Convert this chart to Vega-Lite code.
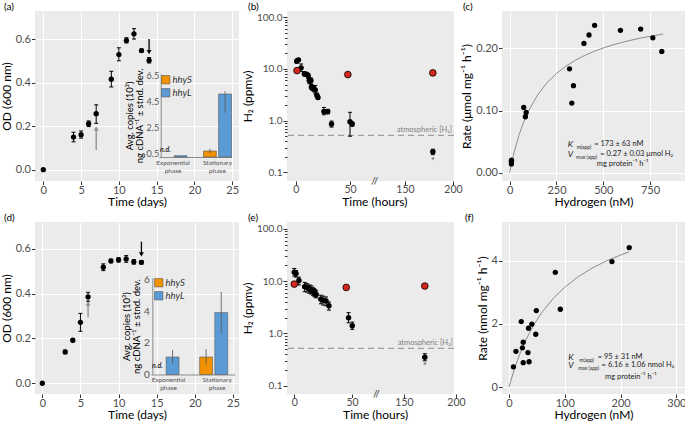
{
"$schema": "https://vega.github.io/schema/vega-lite/v6.json",
"background": "white",
"padding": {"left": 0, "top": 2, "right": 0, "bottom": 0},
"config": {
  "font": "Lato",
  "view": {"fill": "#EBEBEB", "stroke": null},
  "axis": {"domain": false, "labelFontSize": 11, "labelColor": "#4D4D4D", "titleFontSize": 12, "titleFontWeight": "normal", "titleColor": "#000000", "tickColor": "#333333", "tickSize": 3.5, "gridColor": "#FFFFFF", "gridWidth": 1, "labelPadding": 1, "titlePadding": 2, "labelFlush": false, "labelOverlap": false},
  "axisX": {"labelPadding": 0, "titlePadding": 1},
  "title": {"fontSize": 10, "fontWeight": "normal", "anchor": "start", "frame": "group", "offset": -1, "color": "#000000"},
  "legend": {"labelFontSize": 9.5, "labelFontStyle": "italic", "labelColor": "#333333"}
},
"datasets": {
  "growthA": [
    {"day": 0, "od": 0.0},
    {"day": 4, "od": 0.150, "lo": 0.128, "hi": 0.172},
    {"day": 5, "od": 0.161, "lo": 0.145, "hi": 0.178},
    {"day": 6, "od": 0.211, "lo": 0.198, "hi": 0.224},
    {"day": 7, "od": 0.257, "lo": 0.213, "hi": 0.298},
    {"day": 9, "od": 0.416, "lo": 0.380, "hi": 0.452},
    {"day": 10, "od": 0.529, "lo": 0.500, "hi": 0.560},
    {"day": 11, "od": 0.594, "lo": 0.582, "hi": 0.606},
    {"day": 12, "od": 0.624, "lo": 0.600, "hi": 0.648},
    {"day": 13, "od": 0.547, "lo": 0.540, "hi": 0.554},
    {"day": 14, "od": 0.502, "lo": 0.490, "hi": 0.515}
  ],
  "arrowsA": [
    {"day": 7, "from": 0.09, "to": 0.19, "kind": "exp"},
    {"day": 14, "from": 0.60, "to": 0.54, "kind": "stat"}
  ],
  "insetA": [
    {"phase": "Exponential phase", "gene": "hhyS", "note": "n.d."},
    {"phase": "Exponential phase", "gene": "hhyL", "copies": 0.3},
    {"phase": "Stationary phase", "gene": "hhyS", "copies": 0.66, "lo": 0.48, "hi": 0.84},
    {"phase": "Stationary phase", "gene": "hhyL", "copies": 5.04, "lo": 3.6, "hi": 5.25}
  ],
  "growthD": [
    {"day": 0, "od": 0.0},
    {"day": 3, "od": 0.140, "lo": 0.132, "hi": 0.148},
    {"day": 4, "od": 0.192, "lo": 0.185, "hi": 0.199},
    {"day": 5, "od": 0.272, "lo": 0.232, "hi": 0.312},
    {"day": 6, "od": 0.386, "lo": 0.366, "hi": 0.406},
    {"day": 8, "od": 0.518, "lo": 0.503, "hi": 0.533},
    {"day": 9, "od": 0.546, "lo": 0.538, "hi": 0.554},
    {"day": 10, "od": 0.551, "lo": 0.541, "hi": 0.561},
    {"day": 11, "od": 0.555, "lo": 0.540, "hi": 0.570},
    {"day": 12, "od": 0.542, "lo": 0.532, "hi": 0.552},
    {"day": 13, "od": 0.540, "lo": 0.532, "hi": 0.548}
  ],
  "arrowsD": [
    {"day": 6, "from": 0.295, "to": 0.355, "kind": "exp"},
    {"day": 13, "from": 0.632, "to": 0.575, "kind": "stat"}
  ],
  "insetD": [
    {"phase": "Exponential phase", "gene": "hhyS", "note": "n.d."},
    {"phase": "Exponential phase", "gene": "hhyL", "copies": 1.1, "lo": 0.7, "hi": 1.55},
    {"phase": "Stationary phase", "gene": "hhyS", "copies": 1.1, "lo": 0.62, "hi": 1.6},
    {"phase": "Stationary phase", "gene": "hhyL", "copies": 3.9, "lo": 2.6, "hi": 5.2}
  ],
  "h2B": [
    {"h": 1, "v": 14.1, "lo": 13, "hi": 15.5},
    {"h": 2.5, "v": 15, "lo": 14, "hi": 16},
    {"h": 5, "v": 10.5, "lo": 9, "hi": 12.5},
    {"h": 8, "v": 8.1, "lo": 7.3, "hi": 8.8},
    {"h": 10, "v": 7.9, "lo": 7.2, "hi": 8.5},
    {"h": 11.5, "v": 7.4, "lo": 6.6, "hi": 8.2},
    {"h": 12.5, "v": 6.0, "lo": 5.2, "hi": 6.8},
    {"h": 14, "v": 6.0, "lo": 5.3, "hi": 6.7},
    {"h": 14.5, "v": 4.5, "lo": 4.0, "hi": 5.0},
    {"h": 15.5, "v": 4.3, "lo": 3.8, "hi": 4.8},
    {"h": 17, "v": 4.1, "lo": 3.6, "hi": 4.6},
    {"h": 18, "v": 3.9, "lo": 3.3, "hi": 4.8},
    {"h": 19.5, "v": 3.1, "lo": 2.8, "hi": 3.4},
    {"h": 20.5, "v": 2.8, "lo": 2.6, "hi": 3.0},
    {"h": 26, "v": 1.5, "lo": 1.3, "hi": 1.8},
    {"h": 29.5, "v": 1.5, "lo": 1.35, "hi": 1.65},
    {"h": 33, "v": 0.86, "lo": 0.75, "hi": 0.98},
    {"h": 50, "v": 0.95, "lo": 0.5, "hi": 1.45},
    {"h": 54, "v": 0.86, "lo": 0.78, "hi": 0.94},
    {"h": 179, "v": 0.25, "lo": 0.22, "hi": 0.28}
  ],
  "redB": [
    {"h": 1.2, "v": 9.3},
    {"h": 48, "v": 7.8},
    {"h": 179, "v": 8.4}
  ],
  "h2E": [
    {"h": 0, "v": 14.8, "lo": 12.5, "hi": 17.5},
    {"h": 1.5, "v": 14, "lo": 12, "hi": 16},
    {"h": 4, "v": 10.3, "lo": 8.5, "hi": 12},
    {"h": 9, "v": 7.8, "lo": 6.3, "hi": 9.5},
    {"h": 11, "v": 7.6, "lo": 6.2, "hi": 9},
    {"h": 13, "v": 7.1, "lo": 5.9, "hi": 8.5},
    {"h": 14.5, "v": 6.9, "lo": 5.7, "hi": 8.2},
    {"h": 16, "v": 6.5, "lo": 5.4, "hi": 7.7},
    {"h": 17, "v": 6.2, "lo": 5.2, "hi": 7.3},
    {"h": 18, "v": 5.9, "lo": 5.0, "hi": 7.0},
    {"h": 19, "v": 5.6, "lo": 4.8, "hi": 6.6},
    {"h": 23, "v": 4.5, "lo": 3.7, "hi": 5.4},
    {"h": 25, "v": 4.3, "lo": 3.5, "hi": 5.2},
    {"h": 27.5, "v": 4.2, "lo": 3.4, "hi": 5.0},
    {"h": 30, "v": 3.4, "lo": 2.8, "hi": 4.0},
    {"h": 47, "v": 2.0, "lo": 1.6, "hi": 2.5},
    {"h": 50.5, "v": 1.4, "lo": 1.2, "hi": 1.65},
    {"h": 170, "v": 0.35, "lo": 0.3, "hi": 0.41}
  ],
  "redE": [
    {"h": 0, "v": 8.8},
    {"h": 45, "v": 7.6},
    {"h": 170, "v": 8.1}
  ],
  "kinC": [
    {"nM": 9, "rate": 0.018}, {"nM": 9, "rate": 0.014}, {"nM": 10, "rate": 0.020},
    {"nM": 75, "rate": 0.105}, {"nM": 88, "rate": 0.097}, {"nM": 84, "rate": 0.090},
    {"nM": 320, "rate": 0.167}, {"nM": 332, "rate": 0.112}, {"nM": 341, "rate": 0.140},
    {"nM": 397, "rate": 0.208}, {"nM": 424, "rate": 0.2215}, {"nM": 454, "rate": 0.237},
    {"nM": 592, "rate": 0.229}, {"nM": 700, "rate": 0.231}, {"nM": 765, "rate": 0.217},
    {"nM": 813, "rate": 0.195}
  ],
  "fitC": [
    {"nM": 0, "rate": 0}, {"nM": 10, "rate": 0.0148}, {"nM": 25, "rate": 0.0341}, {"nM": 50, "rate": 0.0605},
    {"nM": 75, "rate": 0.0817}, {"nM": 100, "rate": 0.0989}, {"nM": 150, "rate": 0.1254}, {"nM": 200, "rate": 0.1448},
    {"nM": 250, "rate": 0.1596}, {"nM": 300, "rate": 0.1712}, {"nM": 350, "rate": 0.1807}, {"nM": 400, "rate": 0.1885},
    {"nM": 450, "rate": 0.1950}, {"nM": 500, "rate": 0.2006}, {"nM": 550, "rate": 0.2054}, {"nM": 600, "rate": 0.2096},
    {"nM": 650, "rate": 0.2132}, {"nM": 700, "rate": 0.2165}, {"nM": 750, "rate": 0.2194}, {"nM": 820, "rate": 0.2230}
  ],
  "kinF": [
    {"nM": 8, "rate": 0.64}, {"nM": 12.5, "rate": 1.13}, {"nM": 22, "rate": 2.07}, {"nM": 24, "rate": 1.24},
    {"nM": 25.5, "rate": 1.42}, {"nM": 25.5, "rate": 0.77}, {"nM": 34, "rate": 1.09}, {"nM": 36, "rate": 0.80},
    {"nM": 35, "rate": 1.86}, {"nM": 41, "rate": 1.99}, {"nM": 48, "rate": 1.67}, {"nM": 49, "rate": 2.42},
    {"nM": 83, "rate": 3.63}, {"nM": 92, "rate": 2.46}, {"nM": 184.5, "rate": 3.97}, {"nM": 215.5, "rate": 4.41}
  ],
  "fitF": [
    {"nM": 0, "rate": 0}, {"nM": 10, "rate": 0.587}, {"nM": 20, "rate": 1.071}, {"nM": 30, "rate": 1.478},
    {"nM": 40, "rate": 1.825}, {"nM": 50, "rate": 2.124}, {"nM": 60, "rate": 2.385}, {"nM": 80, "rate": 2.816},
    {"nM": 100, "rate": 3.159}, {"nM": 125, "rate": 3.5}, {"nM": 150, "rate": 3.771}, {"nM": 175, "rate": 3.993},
    {"nM": 200, "rate": 4.176}, {"nM": 215, "rate": 4.272}
  ]
},
"bounds": "flush",
"align": "each",
"columns": 3,
"spacing": {"row": 41, "column": 48},
"resolve": {"scale": {"color": "independent"}, "legend": {"color": "independent"}},
"concat": [
{
  "width": 204, "height": 170,
  "title": {"text": "(a)", "dx": -31},
  "resolve": {"scale": {"x": "independent", "y": "independent"}, "axis": {"x": "independent", "y": "independent"}},
  "layer": [
    {"layer": [
      {"data": {"name": "growthA"}, "transform": [{"filter": "isValid(datum.lo)"}],
       "mark": {"type": "rule", "color": "#000000", "strokeWidth": 1},
       "encoding": {
         "x": {"field": "day", "type": "quantitative", "title": "Time (days)", "scale": {"domain": [-1.1, 25.9], "nice": false, "zero": false}},
         "y": {"field": "lo", "type": "quantitative", "title": "OD (600 nm)", "scale": {"domain": [-0.052, 0.729], "nice": false, "zero": false}},
         "y2": {"field": "hi"}}},
      {"data": {"name": "growthA"}, "transform": [{"filter": "isValid(datum.lo)"}],
       "mark": {"type": "tick", "orient": "horizontal", "color": "#000000", "size": 4, "thickness": 1, "opacity": 1},
       "encoding": {
         "x": {"field": "day", "type": "quantitative", "title": "Time (days)", "scale": {"domain": [-1.1, 25.9], "nice": false, "zero": false}},
         "y": {"field": "lo", "type": "quantitative", "title": "OD (600 nm)", "scale": {"domain": [-0.052, 0.729], "nice": false, "zero": false}}}},
      {"data": {"name": "growthA"}, "transform": [{"filter": "isValid(datum.hi)"}],
       "mark": {"type": "tick", "orient": "horizontal", "color": "#000000", "size": 4, "thickness": 1, "opacity": 1},
       "encoding": {
         "x": {"field": "day", "type": "quantitative", "title": "Time (days)", "scale": {"domain": [-1.1, 25.9], "nice": false, "zero": false}},
         "y": {"field": "hi", "type": "quantitative", "title": "OD (600 nm)", "scale": {"domain": [-0.052, 0.729], "nice": false, "zero": false}}}},
      {"data": {"name": "growthA"},
       "mark": {"type": "point", "filled": true, "color": "#000000", "size": 28, "opacity": 1},
       "encoding": {
         "x": {"field": "day", "type": "quantitative", "title": "Time (days)", "scale": {"domain": [-1.1, 25.9], "nice": false, "zero": false},
               "axis": {"values": [0, 2.5, 5, 7.5, 10, 12.5, 15, 17.5, 20, 22.5, 25], "labelExpr": "datum.value % 5 !== 0 ? '' : datum.label",
                        "tickOpacity": {"condition": {"test": "datum.value % 5 !== 0", "value": 0}, "value": 1},
                        "gridWidth": {"condition": {"test": "datum.value % 5 !== 0", "value": 0.5}, "value": 1}}},
         "y": {"field": "od", "type": "quantitative", "title": "OD (600 nm)", "scale": {"domain": [-0.052, 0.729], "nice": false, "zero": false},
               "axis": {"values": [0, 0.1, 0.2, 0.3, 0.4, 0.5, 0.6, 0.7], "format": ".1f", "labelExpr": "round(datum.value*10) % 2 === 1 ? '' : datum.label",
                        "tickOpacity": {"condition": {"test": "round(datum.value*10) % 2 === 1", "value": 0}, "value": 1},
                        "gridWidth": {"condition": {"test": "round(datum.value*10) % 2 === 1", "value": 0.5}, "value": 1}}}}},
      {"data": {"name": "arrowsA"},
       "mark": {"type": "rule", "strokeWidth": 1.3},
       "encoding": {
         "x": {"field": "day", "type": "quantitative", "title": "Time (days)", "scale": {"domain": [-1.1, 25.9], "nice": false, "zero": false}},
         "y": {"field": "from", "type": "quantitative", "title": "OD (600 nm)", "scale": {"domain": [-0.052, 0.729], "nice": false, "zero": false}},
         "y2": {"field": "to"},
         "color": {"condition": {"test": "datum.kind === 'exp'", "value": "#8C8C8C"}, "value": "#000000"}}},
      {"data": {"name": "arrowsA"},
       "mark": {"type": "point", "filled": true, "size": 24, "opacity": 1},
       "encoding": {
         "x": {"field": "day", "type": "quantitative", "title": "Time (days)", "scale": {"domain": [-1.1, 25.9], "nice": false, "zero": false}},
         "y": {"field": "to", "type": "quantitative", "title": "OD (600 nm)", "scale": {"domain": [-0.052, 0.729], "nice": false, "zero": false}},
         "color": {"condition": {"test": "datum.kind === 'exp'", "value": "#8C8C8C"}, "value": "#000000"},
         "shape": {"condition": {"test": "datum.kind === 'exp'", "value": "triangle-up"}, "value": "triangle-down"}}}
    ]},
    {"layer": [
      {"data": {"name": "insetA"}, "transform": [{"filter": "isValid(datum.copies)"}],
       "mark": {"type": "bar", "stroke": "#555555", "strokeWidth": 0.6},
       "encoding": {
         "x": {"field": "phase", "type": "nominal", "title": null,
               "scale": {"domain": ["Exponential phase", "Stationary phase"], "range": [124, 196.5], "paddingInner": 0.37, "paddingOuter": 0},
               "axis": {"orient": "bottom", "offset": -24, "domain": true, "domainColor": "#8C8C8C", "ticks": false, "grid": false, "labelAngle": 0, "labelFontSize": 6.5, "labelColor": "#555555", "labelPadding": 2, "labelExpr": "split(datum.label, ' ')", "labelLineHeight": 8}},
         "xOffset": {"field": "gene", "type": "nominal", "scale": {"domain": ["hhyS", "hhyL"], "paddingInner": 0.15}},
         "y": {"field": "copies", "type": "quantitative", "title": ["Avg. copies (10³)", "ng cDNA⁻¹ ± stnd. dev."],
               "scale": {"domain": [0.2, 6.6], "range": [146, 62.7], "nice": false, "zero": false},
               "axis": {"orient": "left", "offset": -125.7, "values": [0.5, 1.5, 2.5, 3.5, 4.5, 5.5, 6.5], "format": ".1f", "domain": true, "domainColor": "#8C8C8C", "ticks": false, "grid": false, "labelFontSize": 9, "labelColor": "#555555", "labelPadding": 2, "titleFontSize": 9.5, "titlePadding": 2, "titleLineHeight": 10}},
         "y2": {"datum": 0.2},
         "color": {"field": "gene", "type": "nominal", "scale": {"domain": ["hhyS", "hhyL"], "range": ["#F39200", "#5B9BD5"]},
                   "legend": {"orient": "none", "legendX": 126, "legendY": 64, "title": null, "symbolType": "square", "symbolSize": 70, "symbolStrokeColor": "#555555", "symbolStrokeWidth": 0.6, "symbolOpacity": 1, "rowPadding": 1, "labelOffset": 2}}}},
      {"data": {"name": "insetA"}, "transform": [{"filter": "isValid(datum.lo)"}],
       "mark": {"type": "rule", "color": "#555555", "strokeWidth": 0.8},
       "encoding": {
         "x": {"field": "phase", "type": "nominal", "title": null, "scale": {"domain": ["Exponential phase", "Stationary phase"], "range": [124, 196.5], "paddingInner": 0.37, "paddingOuter": 0}},
         "xOffset": {"field": "gene", "type": "nominal", "scale": {"domain": ["hhyS", "hhyL"], "paddingInner": 0.15}},
         "y": {"field": "lo", "type": "quantitative", "title": ["Avg. copies (10³)", "ng cDNA⁻¹ ± stnd. dev."], "scale": {"domain": [0.2, 6.6], "range": [146, 62.7], "nice": false, "zero": false}},
         "y2": {"field": "hi"}}},
      {"data": {"name": "insetA"}, "transform": [{"filter": "isValid(datum.note)"}],
       "mark": {"type": "text", "fontStyle": "italic", "fontWeight": "bold", "fontSize": 7, "color": "#333333"},
       "encoding": {
         "x": {"field": "phase", "type": "nominal", "title": null, "scale": {"domain": ["Exponential phase", "Stationary phase"], "range": [124, 196.5], "paddingInner": 0.37, "paddingOuter": 0}},
         "xOffset": {"field": "gene", "type": "nominal", "scale": {"domain": ["hhyS", "hhyL"], "paddingInner": 0.15}},
         "y": {"datum": 0.74, "type": "quantitative"},
         "text": {"field": "note"}}}
    ]}
  ]
},
{
  "width": 167, "height": 170,
  "title": {"text": "(b)", "dx": -39},
  "layer": [
    {"data": {"values": [{}]},
     "mark": {"type": "rule", "color": "#8C8C8C", "strokeDash": [6, 4], "strokeWidth": 1},
     "encoding": {"y": {"datum": 0.52, "type": "quantitative"}}},
    {"data": {"values": [{"t": "atmospheric [H₂]"}]},
     "mark": {"type": "text", "align": "right", "baseline": "bottom", "fontSize": 7.5, "color": "#808080", "dy": -1},
     "encoding": {"x": {"datum": 199, "type": "quantitative"}, "y": {"datum": 0.53, "type": "quantitative"}, "text": {"field": "t"}}},
    {"data": {"name": "h2B"},
     "mark": {"type": "rule", "color": "#000000", "strokeWidth": 1},
     "encoding": {
       "x": {"field": "h", "type": "quantitative", "title": "Time (hours)", "scale": {"type": "linear", "domain": [0, 50, 150, 200], "range": [8.7, 63, 118, 166], "nice": false, "zero": false}},
       "y": {"field": "lo", "type": "quantitative", "title": "H₂ (ppmv)", "scale": {"type": "log", "domain": [0.0679, 132.4], "nice": false}},
       "y2": {"field": "hi"}}},
    {"data": {"name": "h2B"},
     "mark": {"type": "tick", "orient": "horizontal", "color": "#000000", "size": 4, "thickness": 1, "opacity": 1},
     "encoding": {
       "x": {"field": "h", "type": "quantitative", "title": "Time (hours)", "scale": {"type": "linear", "domain": [0, 50, 150, 200], "range": [8.7, 63, 118, 166], "nice": false, "zero": false}},
       "y": {"field": "lo", "type": "quantitative", "title": "H₂ (ppmv)", "scale": {"type": "log", "domain": [0.0679, 132.4], "nice": false}}}},
    {"data": {"name": "h2B"},
     "mark": {"type": "tick", "orient": "horizontal", "color": "#000000", "size": 4, "thickness": 1, "opacity": 1},
     "encoding": {
       "x": {"field": "h", "type": "quantitative", "title": "Time (hours)", "scale": {"type": "linear", "domain": [0, 50, 150, 200], "range": [8.7, 63, 118, 166], "nice": false, "zero": false}},
       "y": {"field": "hi", "type": "quantitative", "title": "H₂ (ppmv)", "scale": {"type": "log", "domain": [0.0679, 132.4], "nice": false}}}},
    {"data": {"name": "h2B"},
     "mark": {"type": "point", "filled": true, "color": "#000000", "size": 30, "opacity": 1},
     "encoding": {
       "x": {"field": "h", "type": "quantitative", "title": "Time (hours)", "scale": {"type": "linear", "domain": [0, 50, 150, 200], "range": [8.7, 63, 118, 166], "nice": false, "zero": false},
             "axis": {"values": [0, 50, 150, 200], "labelFontSize": 10.5}},
       "y": {"field": "v", "type": "quantitative", "title": "H₂ (ppmv)", "scale": {"type": "log", "domain": [0.0679, 132.4], "nice": false},
             "axis": {"values": [0.1, 0.2, 0.3, 0.4, 0.5, 0.6, 0.7, 0.8, 0.9, 1, 2, 3, 4, 5, 6, 7, 8, 9, 10, 20, 30, 40, 50, 60, 70, 80, 90, 100], "format": ".1f", "labelFontSize": 10,
                      "labelExpr": "indexof([0.1, 1, 10, 100], datum.value) >= 0 ? datum.label : ''",
                      "tickSize": {"condition": {"test": "indexof([0.1, 1, 10, 100], datum.value) >= 0", "value": 4}, "value": 2.5},
                      "gridOpacity": {"condition": {"test": "indexof([0.1, 1, 10, 100], datum.value) >= 0", "value": 1}, "value": 0}}}}},
    {"data": {"name": "redB"},
     "mark": {"type": "point", "filled": true, "color": "#D7261E", "stroke": "#000000", "strokeWidth": 0.8, "size": 45, "opacity": 1},
     "encoding": {
       "x": {"field": "h", "type": "quantitative", "title": "Time (hours)", "scale": {"type": "linear", "domain": [0, 50, 150, 200], "range": [8.7, 63, 118, 166], "nice": false, "zero": false}},
       "y": {"field": "v", "type": "quantitative", "title": "H₂ (ppmv)", "scale": {"type": "log", "domain": [0.0679, 132.4], "nice": false}}}},
    {"data": {"values": [{"t": "*"}]},
     "mark": {"type": "text", "fontSize": 10, "color": "#555555", "baseline": "middle", "dy": 2},
     "encoding": {"x": {"datum": 179, "type": "quantitative"}, "y": {"datum": 0.177, "type": "quantitative"}, "text": {"field": "t"}}},
    {"data": {"values": [{"t": "//"}]},
     "mark": {"type": "text", "fontSize": 10, "color": "#333333", "baseline": "middle"},
     "encoding": {"x": {"datum": 95, "type": "quantitative"}, "y": {"datum": 0.0685, "type": "quantitative"}, "text": {"field": "t"}}}
  ]
},
{
  "width": 183, "height": 170,
  "title": {"text": "(c)", "dx": -39},
  "layer": [
    {"data": {"name": "fitC"},
     "mark": {"type": "line", "color": "#8C8C8C", "strokeWidth": 1},
     "encoding": {
       "x": {"field": "nM", "type": "quantitative", "title": "Hydrogen (nM)", "scale": {"domain": [-41, 937], "nice": false, "zero": false}},
       "y": {"field": "rate", "type": "quantitative", "title": "Rate (μmol mg⁻¹ h⁻¹)", "scale": {"domain": [-0.0134, 0.2601], "nice": false, "zero": false}}}},
    {"data": {"name": "kinC"},
     "mark": {"type": "point", "filled": true, "color": "#000000", "size": 28, "opacity": 1},
     "encoding": {
       "x": {"field": "nM", "type": "quantitative", "title": "Hydrogen (nM)", "scale": {"domain": [-41, 937], "nice": false, "zero": false},
             "axis": {"values": [0, 125, 250, 375, 500, 625, 750, 875], "labelExpr": "datum.value % 250 !== 0 ? '' : datum.label",
                      "tickOpacity": {"condition": {"test": "datum.value % 250 !== 0", "value": 0}, "value": 1},
                      "gridWidth": {"condition": {"test": "datum.value % 250 !== 0", "value": 0.5}, "value": 1}}},
       "y": {"field": "rate", "type": "quantitative", "title": "Rate (μmol mg⁻¹ h⁻¹)", "scale": {"domain": [-0.0134, 0.2601], "nice": false, "zero": false},
             "axis": {"values": [0, 0.025, 0.05, 0.075, 0.1, 0.125, 0.15, 0.175, 0.2, 0.225, 0.25], "format": ".2f", "labelExpr": "round(datum.value*40) % 2 === 1 ? '' : datum.label",
                      "tickOpacity": {"condition": {"test": "round(datum.value*40) % 2 === 1", "value": 0}, "value": 1},
                      "gridWidth": {"condition": {"test": "round(datum.value*40) % 2 === 1", "value": 0.5}, "value": 1}}}}},
    {"data": {"values": [{"t": "K"}]},
     "mark": {"type": "text", "align": "left", "baseline": "middle", "fontSize": 8.5, "fontStyle": "italic", "color": "#1A1A1A"},
     "encoding": {"x": {"datum": 310, "type": "quantitative"}, "y": {"datum": 0.0462, "type": "quantitative"}, "text": {"field": "t"}}},
    {"data": {"values": [{"t": "m(app)"}]},
     "mark": {"type": "text", "align": "left", "baseline": "middle", "fontSize": 5, "dy": 3, "color": "#1A1A1A"},
     "encoding": {"x": {"datum": 358, "type": "quantitative"}, "y": {"datum": 0.0462, "type": "quantitative"}, "text": {"field": "t"}}},
    {"data": {"values": [{"t": "= 173 ± 63 nM"}]},
     "mark": {"type": "text", "align": "left", "baseline": "middle", "fontSize": 7.5, "color": "#1A1A1A"},
     "encoding": {"x": {"datum": 452, "type": "quantitative"}, "y": {"datum": 0.0462, "type": "quantitative"}, "text": {"field": "t"}}},
    {"data": {"values": [{"t": "V"}]},
     "mark": {"type": "text", "align": "left", "baseline": "middle", "fontSize": 8.5, "fontStyle": "italic", "color": "#1A1A1A"},
     "encoding": {"x": {"datum": 310, "type": "quantitative"}, "y": {"datum": 0.030, "type": "quantitative"}, "text": {"field": "t"}}},
    {"data": {"values": [{"t": "max (app)"}]},
     "mark": {"type": "text", "align": "left", "baseline": "middle", "fontSize": 5, "dy": 3, "color": "#1A1A1A"},
     "encoding": {"x": {"datum": 355, "type": "quantitative"}, "y": {"datum": 0.030, "type": "quantitative"}, "text": {"field": "t"}}},
    {"data": {"values": [{"t": "= 0.27 ± 0.03 μmol H₂"}]},
     "mark": {"type": "text", "align": "left", "baseline": "middle", "fontSize": 7.5, "color": "#1A1A1A"},
     "encoding": {"x": {"datum": 484, "type": "quantitative"}, "y": {"datum": 0.030, "type": "quantitative"}, "text": {"field": "t"}}},
    {"data": {"values": [{"t": "mg protein⁻¹ h⁻¹"}]},
     "mark": {"type": "text", "align": "left", "baseline": "middle", "fontSize": 7.5, "color": "#1A1A1A"},
     "encoding": {"x": {"datum": 466, "type": "quantitative"}, "y": {"datum": 0.0135, "type": "quantitative"}, "text": {"field": "t"}}}
  ]
},
{
  "width": 204, "height": 172,
  "title": {"text": "(d)", "dx": -31},
  "resolve": {"scale": {"x": "independent", "y": "independent"}, "axis": {"x": "independent", "y": "independent"}},
  "layer": [
    {"layer": [
      {"data": {"name": "growthD"}, "transform": [{"filter": "isValid(datum.lo)"}],
       "mark": {"type": "rule", "color": "#000000", "strokeWidth": 1},
       "encoding": {
         "x": {"field": "day", "type": "quantitative", "title": "Time (days)", "scale": {"domain": [-0.96, 25.8], "nice": false, "zero": false}},
         "y": {"field": "lo", "type": "quantitative", "title": "OD (600 nm)", "scale": {"domain": [-0.048, 0.72], "nice": false, "zero": false}},
         "y2": {"field": "hi"}}},
      {"data": {"name": "growthD"}, "transform": [{"filter": "isValid(datum.lo)"}],
       "mark": {"type": "tick", "orient": "horizontal", "color": "#000000", "size": 4, "thickness": 1, "opacity": 1},
       "encoding": {
         "x": {"field": "day", "type": "quantitative", "title": "Time (days)", "scale": {"domain": [-0.96, 25.8], "nice": false, "zero": false}},
         "y": {"field": "lo", "type": "quantitative", "title": "OD (600 nm)", "scale": {"domain": [-0.048, 0.72], "nice": false, "zero": false}}}},
      {"data": {"name": "growthD"}, "transform": [{"filter": "isValid(datum.hi)"}],
       "mark": {"type": "tick", "orient": "horizontal", "color": "#000000", "size": 4, "thickness": 1, "opacity": 1},
       "encoding": {
         "x": {"field": "day", "type": "quantitative", "title": "Time (days)", "scale": {"domain": [-0.96, 25.8], "nice": false, "zero": false}},
         "y": {"field": "hi", "type": "quantitative", "title": "OD (600 nm)", "scale": {"domain": [-0.048, 0.72], "nice": false, "zero": false}}}},
      {"data": {"name": "growthD"},
       "mark": {"type": "point", "filled": true, "color": "#000000", "size": 28, "opacity": 1},
       "encoding": {
         "x": {"field": "day", "type": "quantitative", "title": "Time (days)", "scale": {"domain": [-0.96, 25.8], "nice": false, "zero": false},
               "axis": {"values": [0, 2.5, 5, 7.5, 10, 12.5, 15, 17.5, 20, 22.5, 25], "labelExpr": "datum.value % 5 !== 0 ? '' : datum.label",
                        "tickOpacity": {"condition": {"test": "datum.value % 5 !== 0", "value": 0}, "value": 1},
                        "gridWidth": {"condition": {"test": "datum.value % 5 !== 0", "value": 0.5}, "value": 1}}},
         "y": {"field": "od", "type": "quantitative", "title": "OD (600 nm)", "scale": {"domain": [-0.048, 0.72], "nice": false, "zero": false},
               "axis": {"values": [0, 0.1, 0.2, 0.3, 0.4, 0.5, 0.6, 0.7], "format": ".1f", "labelExpr": "round(datum.value*10) % 2 === 1 ? '' : datum.label",
                        "tickOpacity": {"condition": {"test": "round(datum.value*10) % 2 === 1", "value": 0}, "value": 1},
                        "gridWidth": {"condition": {"test": "round(datum.value*10) % 2 === 1", "value": 0.5}, "value": 1}}}}},
      {"data": {"name": "arrowsD"},
       "mark": {"type": "rule", "strokeWidth": 1.3},
       "encoding": {
         "x": {"field": "day", "type": "quantitative", "title": "Time (days)", "scale": {"domain": [-0.96, 25.8], "nice": false, "zero": false}},
         "y": {"field": "from", "type": "quantitative", "title": "OD (600 nm)", "scale": {"domain": [-0.048, 0.72], "nice": false, "zero": false}},
         "y2": {"field": "to"},
         "color": {"condition": {"test": "datum.kind === 'exp'", "value": "#8C8C8C"}, "value": "#000000"}}},
      {"data": {"name": "arrowsD"},
       "mark": {"type": "point", "filled": true, "size": 24, "opacity": 1},
       "encoding": {
         "x": {"field": "day", "type": "quantitative", "title": "Time (days)", "scale": {"domain": [-0.96, 25.8], "nice": false, "zero": false}},
         "y": {"field": "to", "type": "quantitative", "title": "OD (600 nm)", "scale": {"domain": [-0.048, 0.72], "nice": false, "zero": false}},
         "color": {"condition": {"test": "datum.kind === 'exp'", "value": "#8C8C8C"}, "value": "#000000"},
         "shape": {"condition": {"test": "datum.kind === 'exp'", "value": "triangle-up"}, "value": "triangle-down"}}}
    ]},
    {"layer": [
      {"data": {"name": "insetD"}, "transform": [{"filter": "isValid(datum.copies)"}],
       "mark": {"type": "bar", "stroke": "#555555", "strokeWidth": 0.6},
       "encoding": {
         "x": {"field": "phase", "type": "nominal", "title": null,
               "scale": {"domain": ["Exponential phase", "Stationary phase"], "range": [116, 199.7], "paddingInner": 0.28, "paddingOuter": 0},
               "axis": {"orient": "bottom", "offset": -19.5, "domain": true, "domainColor": "#8C8C8C", "ticks": false, "grid": false, "labelAngle": 0, "labelFontSize": 6.5, "labelColor": "#555555", "labelPadding": 2, "labelExpr": "split(datum.label, ' ')", "labelLineHeight": 8}},
         "xOffset": {"field": "gene", "type": "nominal", "scale": {"domain": ["hhyS", "hhyL"], "paddingInner": 0.12}},
         "y": {"field": "copies", "type": "quantitative", "title": ["Avg. copies (10³)", "ng cDNA⁻¹ ± stnd. dev."],
               "scale": {"domain": [0, 6.1], "range": [152.5, 55.7], "nice": false, "zero": false},
               "axis": {"orient": "left", "offset": -117.3, "values": [0, 1, 2, 3, 4, 5, 6], "format": "d", "domain": true, "domainColor": "#8C8C8C", "ticks": false, "grid": false, "labelFontSize": 10, "labelColor": "#555555", "labelPadding": 3, "titleFontSize": 9.5, "titlePadding": 2, "titleLineHeight": 10}},
         "y2": {"datum": 0},
         "color": {"field": "gene", "type": "nominal", "scale": {"domain": ["hhyS", "hhyL"], "range": ["#F39200", "#5B9BD5"]},
                   "legend": {"orient": "none", "legendX": 119, "legendY": 56, "title": null, "symbolType": "square", "symbolSize": 70, "symbolStrokeColor": "#555555", "symbolStrokeWidth": 0.6, "symbolOpacity": 1, "rowPadding": 1, "labelOffset": 2}}}},
      {"data": {"name": "insetD"}, "transform": [{"filter": "isValid(datum.lo)"}],
       "mark": {"type": "rule", "color": "#555555", "strokeWidth": 0.8},
       "encoding": {
         "x": {"field": "phase", "type": "nominal", "title": null, "scale": {"domain": ["Exponential phase", "Stationary phase"], "range": [116, 199.7], "paddingInner": 0.28, "paddingOuter": 0}},
         "xOffset": {"field": "gene", "type": "nominal", "scale": {"domain": ["hhyS", "hhyL"], "paddingInner": 0.12}},
         "y": {"field": "lo", "type": "quantitative", "title": ["Avg. copies (10³)", "ng cDNA⁻¹ ± stnd. dev."], "scale": {"domain": [0, 6.1], "range": [152.5, 55.7], "nice": false, "zero": false}},
         "y2": {"field": "hi"}}},
      {"data": {"name": "insetD"}, "transform": [{"filter": "isValid(datum.note)"}],
       "mark": {"type": "text", "fontStyle": "italic", "fontWeight": "bold", "fontSize": 7, "color": "#333333"},
       "encoding": {
         "x": {"field": "phase", "type": "nominal", "title": null, "scale": {"domain": ["Exponential phase", "Stationary phase"], "range": [116, 199.7], "paddingInner": 0.28, "paddingOuter": 0}},
         "xOffset": {"field": "gene", "type": "nominal", "scale": {"domain": ["hhyS", "hhyL"], "paddingInner": 0.12}},
         "y": {"datum": 0.56, "type": "quantitative"},
         "text": {"field": "note"}}}
    ]}
  ]
},
{
  "width": 167, "height": 172,
  "title": {"text": "(e)", "dx": -39},
  "layer": [
    {"data": {"values": [{}]},
     "mark": {"type": "rule", "color": "#8C8C8C", "strokeDash": [6, 4], "strokeWidth": 1},
     "encoding": {"y": {"datum": 0.52, "type": "quantitative"}}},
    {"data": {"values": [{"t": "atmospheric [H₂]"}]},
     "mark": {"type": "text", "align": "right", "baseline": "bottom", "fontSize": 7.5, "color": "#808080", "dy": -1},
     "encoding": {"x": {"datum": 197, "type": "quantitative"}, "y": {"datum": 0.53, "type": "quantitative"}, "text": {"field": "t"}}},
    {"data": {"name": "h2E"},
     "mark": {"type": "rule", "color": "#000000", "strokeWidth": 1},
     "encoding": {
       "x": {"field": "h", "type": "quantitative", "title": "Time (hours)", "scale": {"type": "linear", "domain": [0, 50, 150, 200], "range": [7.3, 65, 117, 169], "nice": false, "zero": false}},
       "y": {"field": "lo", "type": "quantitative", "title": "H₂ (ppmv)", "scale": {"type": "log", "domain": [0.0694, 136], "nice": false}},
       "y2": {"field": "hi"}}},
    {"data": {"name": "h2E"},
     "mark": {"type": "tick", "orient": "horizontal", "color": "#000000", "size": 4, "thickness": 1, "opacity": 1},
     "encoding": {
       "x": {"field": "h", "type": "quantitative", "title": "Time (hours)", "scale": {"type": "linear", "domain": [0, 50, 150, 200], "range": [7.3, 65, 117, 169], "nice": false, "zero": false}},
       "y": {"field": "lo", "type": "quantitative", "title": "H₂ (ppmv)", "scale": {"type": "log", "domain": [0.0694, 136], "nice": false}}}},
    {"data": {"name": "h2E"},
     "mark": {"type": "tick", "orient": "horizontal", "color": "#000000", "size": 4, "thickness": 1, "opacity": 1},
     "encoding": {
       "x": {"field": "h", "type": "quantitative", "title": "Time (hours)", "scale": {"type": "linear", "domain": [0, 50, 150, 200], "range": [7.3, 65, 117, 169], "nice": false, "zero": false}},
       "y": {"field": "hi", "type": "quantitative", "title": "H₂ (ppmv)", "scale": {"type": "log", "domain": [0.0694, 136], "nice": false}}}},
    {"data": {"name": "h2E"},
     "mark": {"type": "point", "filled": true, "color": "#000000", "size": 30, "opacity": 1},
     "encoding": {
       "x": {"field": "h", "type": "quantitative", "title": "Time (hours)", "scale": {"type": "linear", "domain": [0, 50, 150, 200], "range": [7.3, 65, 117, 169], "nice": false, "zero": false},
             "axis": {"values": [0, 50, 150, 200], "labelFontSize": 10.5}},
       "y": {"field": "v", "type": "quantitative", "title": "H₂ (ppmv)", "scale": {"type": "log", "domain": [0.0694, 136], "nice": false},
             "axis": {"values": [0.1, 0.2, 0.3, 0.4, 0.5, 0.6, 0.7, 0.8, 0.9, 1, 2, 3, 4, 5, 6, 7, 8, 9, 10, 20, 30, 40, 50, 60, 70, 80, 90, 100], "format": ".1f", "labelFontSize": 10,
                      "labelExpr": "indexof([0.1, 1, 10, 100], datum.value) >= 0 ? datum.label : ''",
                      "tickSize": {"condition": {"test": "indexof([0.1, 1, 10, 100], datum.value) >= 0", "value": 4}, "value": 2.5},
                      "gridOpacity": {"condition": {"test": "indexof([0.1, 1, 10, 100], datum.value) >= 0", "value": 1}, "value": 0}}}}},
    {"data": {"name": "redE"},
     "mark": {"type": "point", "filled": true, "color": "#D7261E", "stroke": "#000000", "strokeWidth": 0.8, "size": 45, "opacity": 1},
     "encoding": {
       "x": {"field": "h", "type": "quantitative", "title": "Time (hours)", "scale": {"type": "linear", "domain": [0, 50, 150, 200], "range": [7.3, 65, 117, 169], "nice": false, "zero": false}},
       "y": {"field": "v", "type": "quantitative", "title": "H₂ (ppmv)", "scale": {"type": "log", "domain": [0.0694, 136], "nice": false}}}},
    {"data": {"values": [{"t": "*"}]},
     "mark": {"type": "text", "fontSize": 10, "color": "#555555", "baseline": "middle", "dy": 2},
     "encoding": {"x": {"datum": 170, "type": "quantitative"}, "y": {"datum": 0.258, "type": "quantitative"}, "text": {"field": "t"}}},
    {"data": {"values": [{"t": "//"}]},
     "mark": {"type": "text", "fontSize": 10, "color": "#333333", "baseline": "middle"},
     "encoding": {"x": {"datum": 96.7, "type": "quantitative"}, "y": {"datum": 0.0705, "type": "quantitative"}, "text": {"field": "t"}}}
  ]
},
{
  "width": 183, "height": 172,
  "title": {"text": "(f)", "dx": -37},
  "layer": [
    {"data": {"name": "fitF"},
     "mark": {"type": "line", "color": "#8C8C8C", "strokeWidth": 1},
     "encoding": {
       "x": {"field": "nM", "type": "quantitative", "title": "Hydrogen (nM)", "scale": {"domain": [-12.5, 315.4], "nice": false, "zero": false}},
       "y": {"field": "rate", "type": "quantitative", "title": "Rate (nmol mg⁻¹ h⁻¹)", "scale": {"domain": [-0.22, 5.22], "nice": false, "zero": false}}}},
    {"data": {"name": "kinF"},
     "mark": {"type": "point", "filled": true, "color": "#000000", "size": 28, "opacity": 1},
     "encoding": {
       "x": {"field": "nM", "type": "quantitative", "title": "Hydrogen (nM)", "scale": {"domain": [-12.5, 315.4], "nice": false, "zero": false},
             "axis": {"values": [0, 50, 100, 150, 200, 250, 300], "labelExpr": "datum.value % 100 !== 0 ? '' : datum.label",
                      "tickOpacity": {"condition": {"test": "datum.value % 100 !== 0", "value": 0}, "value": 1},
                      "gridWidth": {"condition": {"test": "datum.value % 100 !== 0", "value": 0.5}, "value": 1}}},
       "y": {"field": "rate", "type": "quantitative", "title": "Rate (nmol mg⁻¹ h⁻¹)", "scale": {"domain": [-0.22, 5.22], "nice": false, "zero": false},
             "axis": {"values": [0, 0.5, 1, 1.5, 2, 2.5, 3, 3.5, 4, 4.5, 5], "labelExpr": "datum.value % 1 !== 0 ? '' : datum.label",
                      "tickOpacity": {"condition": {"test": "datum.value % 1 !== 0", "value": 0}, "value": 1},
                      "gridWidth": {"condition": {"test": "datum.value % 1 !== 0", "value": 0.5}, "value": 1}}}}},
    {"data": {"values": [{"t": "K"}]},
     "mark": {"type": "text", "align": "left", "baseline": "middle", "fontSize": 8.5, "fontStyle": "italic", "color": "#1A1A1A"},
     "encoding": {"x": {"datum": 106, "type": "quantitative"}, "y": {"datum": 0.96, "type": "quantitative"}, "text": {"field": "t"}}},
    {"data": {"values": [{"t": "m(app)"}]},
     "mark": {"type": "text", "align": "left", "baseline": "middle", "fontSize": 5, "dy": 3, "color": "#1A1A1A"},
     "encoding": {"x": {"datum": 126, "type": "quantitative"}, "y": {"datum": 0.96, "type": "quantitative"}, "text": {"field": "t"}}},
    {"data": {"values": [{"t": "= 95 ± 31 nM"}]},
     "mark": {"type": "text", "align": "left", "baseline": "middle", "fontSize": 7.5, "color": "#1A1A1A"},
     "encoding": {"x": {"datum": 159, "type": "quantitative"}, "y": {"datum": 0.96, "type": "quantitative"}, "text": {"field": "t"}}},
    {"data": {"values": [{"t": "V"}]},
     "mark": {"type": "text", "align": "left", "baseline": "middle", "fontSize": 8.5, "fontStyle": "italic", "color": "#1A1A1A"},
     "encoding": {"x": {"datum": 106, "type": "quantitative"}, "y": {"datum": 0.695, "type": "quantitative"}, "text": {"field": "t"}}},
    {"data": {"values": [{"t": "max (app)"}]},
     "mark": {"type": "text", "align": "left", "baseline": "middle", "fontSize": 5, "dy": 3, "color": "#1A1A1A"},
     "encoding": {"x": {"datum": 124, "type": "quantitative"}, "y": {"datum": 0.695, "type": "quantitative"}, "text": {"field": "t"}}},
    {"data": {"values": [{"t": "= 6.16 ± 1.06 nmol H₂"}]},
     "mark": {"type": "text", "align": "left", "baseline": "middle", "fontSize": 7.5, "color": "#1A1A1A"},
     "encoding": {"x": {"datum": 166, "type": "quantitative"}, "y": {"datum": 0.695, "type": "quantitative"}, "text": {"field": "t"}}},
    {"data": {"values": [{"t": "mg protein⁻¹ h⁻¹"}]},
     "mark": {"type": "text", "align": "left", "baseline": "middle", "fontSize": 7.5, "color": "#1A1A1A"},
     "encoding": {"x": {"datum": 172, "type": "quantitative"}, "y": {"datum": 0.326, "type": "quantitative"}, "text": {"field": "t"}}}
  ]
}
]
}
